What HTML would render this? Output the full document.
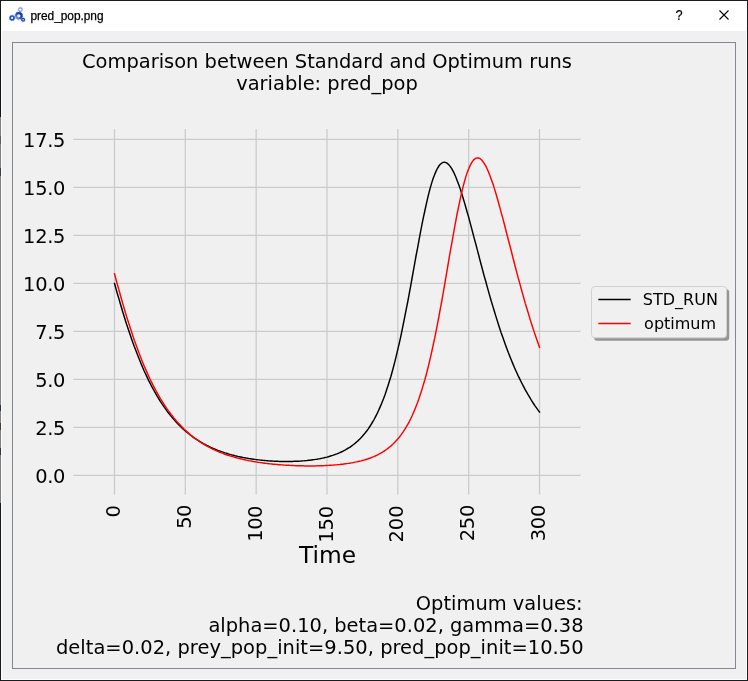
<!DOCTYPE html>
<html><head><meta charset="utf-8"><title>pred_pop.png</title>
<style>
html,body{margin:0;padding:0;background:#f0f0f0;}
#win{position:relative;width:748px;height:681px;overflow:hidden;background:#f0f0f0;font-family:"Liberation Sans",sans-serif;}
#bt{position:absolute;left:0;top:0;width:748px;height:1px;background:#1b1c20;}
#bb{position:absolute;left:0;top:680px;width:748px;height:1px;background:#1b1c20;}
#bl{position:absolute;left:0;top:0;width:1px;height:681px;background:linear-gradient(#15161a 0px,#15161a 117px,#808080 117px,#808080 136px,#5c5c5c 136px,#5c5c5c 144px,#808080 144px,#808080 168px,#3a3f48 168px,#3a3f48 176px,#828282 176px,#828282 405px,#2a2f45 405px,#2a2f45 411px,#808080 411px,#808080 423px,#4a3a30 423px,#4a3a30 430px,#808080 430px,#808080 448px,#33343a 448px,#33343a 455px,#7c7c7c 455px,#7c7c7c 503px,#17181c 503px,#17181c 681px);}
#br{position:absolute;left:747px;top:0;width:1px;height:681px;background:#1b1c20;}
#hl{position:absolute;left:1px;top:1px;width:746px;height:679px;box-sizing:border-box;border:1px solid #fdfdfd;border-top:none;}
#tb{position:absolute;left:1px;top:1px;width:746px;height:30px;background:#fff;}
#ttl{position:absolute;left:30.5px;top:9.2px;font-size:11.9px;line-height:15px;color:#000;white-space:nowrap;letter-spacing:-0.03px;-webkit-text-stroke:0.25px #000;}
#frame{position:absolute;left:12px;top:42px;width:724px;height:627px;box-sizing:border-box;border:1px solid #828790;}
svg{position:absolute;left:0;top:0;}
</style></head><body>
<div id="win">
<div id="tb"></div>
<div id="hl"></div>
<div id="bt"></div><div id="bb"></div><div id="bl"></div><div id="br"></div>
<div id="ttl">pred_pop.png</div>
<div id="frame"></div>
<svg width="748" height="681" viewBox="0 0 748 681" font-family="'DejaVu Sans','Liberation Sans',sans-serif" fill="#000">
<!-- window icon -->
<g id="icon" fill="none">
<defs><linearGradient id="gg" x1="0" y1="1" x2="1" y2="0"><stop offset="0" stop-color="#8aa4ea"/><stop offset="0.45" stop-color="#2a55c4"/><stop offset="1" stop-color="#0a2c9c"/></linearGradient></defs>
<circle cx="20.4" cy="9.6" r="1.75" stroke="#7f99da" stroke-width="1.15"/>
<circle cx="20.4" cy="9.6" r="2.5" stroke="#9fb3e6" stroke-width="0.6" stroke-dasharray="0.9 1.06"/>
<circle cx="12.1" cy="17.9" r="1.9" stroke="#1f52c8" stroke-width="1.7"/>
<circle cx="12.1" cy="17.9" r="2.85" stroke="#3f6ad2" stroke-width="0.6" stroke-dasharray="1 1.24"/>
<circle cx="23.1" cy="19.7" r="1.35" stroke="#1c3fa6" stroke-width="1.3"/>
<circle cx="23.1" cy="19.7" r="2.1" stroke="#4463b8" stroke-width="0.5" stroke-dasharray="0.8 0.85"/>
<circle cx="18.8" cy="15.8" r="2.7" stroke="url(#gg)" stroke-width="2.2"/>
<circle cx="18.8" cy="15.8" r="3.95" stroke="url(#gg)" stroke-width="0.8" stroke-dasharray="1.3 1.8"/>
</g>
<text x="679.1" y="20" font-family="'Liberation Sans',sans-serif" font-size="14.2px" text-anchor="middle" stroke="#000" stroke-width="0.2" transform="translate(679.1 0) scale(0.9 1) translate(-679.1 0)">?</text>
<!-- close button -->
<path d="M719.5 10.5 L728.5 19.5 M728.5 10.5 L719.5 19.5" stroke="#000" stroke-width="1.1" fill="none"/>
<!-- plot -->
<g stroke="#cbcbcb" stroke-width="1.3" fill="none">
<line x1="114.50" y1="129.0" x2="114.50" y2="494.6"/>
<line x1="185.33" y1="129.0" x2="185.33" y2="494.6"/>
<line x1="256.17" y1="129.0" x2="256.17" y2="494.6"/>
<line x1="327.00" y1="129.0" x2="327.00" y2="494.6"/>
<line x1="397.83" y1="129.0" x2="397.83" y2="494.6"/>
<line x1="468.67" y1="129.0" x2="468.67" y2="494.6"/>
<line x1="539.50" y1="129.0" x2="539.50" y2="494.6"/>
<line x1="73.2" y1="475.35" x2="580.85" y2="475.35"/>
<line x1="73.2" y1="427.35" x2="580.85" y2="427.35"/>
<line x1="73.2" y1="379.35" x2="580.85" y2="379.35"/>
<line x1="73.2" y1="331.35" x2="580.85" y2="331.35"/>
<line x1="73.2" y1="283.35" x2="580.85" y2="283.35"/>
<line x1="73.2" y1="235.35" x2="580.85" y2="235.35"/>
<line x1="73.2" y1="187.35" x2="580.85" y2="187.35"/>
<line x1="73.2" y1="139.35" x2="580.85" y2="139.35"/>
</g>
<g font-size="19.44px">
<text x="327" y="67.6" text-anchor="middle">Comparison between Standard and Optimum runs</text>
<text x="327" y="90.0" text-anchor="middle">variable: pred_pop</text>
<text x="65.0" y="483.20" text-anchor="end" letter-spacing="-0.35">0.0</text>
<text x="65.0" y="435.20" text-anchor="end" letter-spacing="-0.35">2.5</text>
<text x="65.0" y="387.20" text-anchor="end" letter-spacing="-0.35">5.0</text>
<text x="65.0" y="339.20" text-anchor="end" letter-spacing="-0.35">7.5</text>
<text x="65.0" y="291.20" text-anchor="end" letter-spacing="-0.35">10.0</text>
<text x="65.0" y="243.20" text-anchor="end" letter-spacing="-0.35">12.5</text>
<text x="65.0" y="195.20" text-anchor="end" letter-spacing="-0.35">15.0</text>
<text x="65.0" y="147.20" text-anchor="end" letter-spacing="-0.35">17.5</text>
<text transform="translate(120.00 505.10) rotate(-90)" text-anchor="end" letter-spacing="0">0</text>
<text transform="translate(190.83 505.00) rotate(-90)" text-anchor="end" letter-spacing="-0.45">50</text>
<text transform="translate(261.67 506.00) rotate(-90)" text-anchor="end" letter-spacing="-0.45">100</text>
<text transform="translate(332.50 506.00) rotate(-90)" text-anchor="end" letter-spacing="-0.15">150</text>
<text transform="translate(403.33 505.40) rotate(-90)" text-anchor="end" letter-spacing="0.0">200</text>
<text transform="translate(474.17 504.95) rotate(-90)" text-anchor="end" letter-spacing="-0.25">250</text>
<text transform="translate(545.00 504.95) rotate(-90)" text-anchor="end" letter-spacing="-0.25">300</text>
<text x="582.6" y="610" text-anchor="end">Optimum values:</text>
<text x="583.6" y="632.1" text-anchor="end">alpha=0.10, beta=0.02, gamma=0.38</text>
<text x="583.6" y="654.2" text-anchor="end" letter-spacing="0.03">delta=0.02, prey_pop_init=9.50, pred_pop_init=10.50</text>
</g>
<text x="327.5" y="562.6" font-size="23.33px" text-anchor="middle">Time</text>
<path d="M114.5 283.4 L115.9 288.4 L117.3 293.5 L118.8 298.4 L120.2 303.2 L121.6 308.0 L123.0 312.7 L124.4 317.3 L125.8 321.7 L127.2 326.1 L128.7 330.4 L130.1 334.6 L131.5 338.7 L132.9 342.7 L134.3 346.6 L135.8 350.3 L137.2 354.0 L138.6 357.6 L140.0 361.1 L141.4 364.5 L142.8 367.8 L144.2 371.0 L145.7 374.1 L147.1 377.1 L148.5 380.1 L149.9 382.9 L151.3 385.6 L152.8 388.3 L154.2 390.9 L155.6 393.4 L157.0 395.8 L158.4 398.2 L159.8 400.5 L161.2 402.7 L162.7 404.8 L164.1 406.9 L165.5 408.9 L166.9 410.8 L168.3 412.7 L169.8 414.5 L171.2 416.3 L172.6 418.0 L174.0 419.6 L175.4 421.2 L176.8 422.7 L178.2 424.2 L179.7 425.7 L181.1 427.0 L182.5 428.4 L183.9 429.7 L185.3 430.9 L186.8 432.1 L188.2 433.3 L189.6 434.4 L191.0 435.5 L192.4 436.6 L193.8 437.6 L195.2 438.6 L196.7 439.5 L198.1 440.4 L199.5 441.3 L200.9 442.2 L202.3 443.0 L203.8 443.8 L205.2 444.5 L206.6 445.3 L208.0 446.0 L209.4 446.7 L210.8 447.4 L212.2 448.0 L213.7 448.6 L215.1 449.2 L216.5 449.8 L217.9 450.4 L219.3 450.9 L220.8 451.4 L222.2 451.9 L223.6 452.4 L225.0 452.9 L226.4 453.3 L227.8 453.8 L229.2 454.2 L230.7 454.6 L232.1 455.0 L233.5 455.3 L234.9 455.7 L236.3 456.0 L237.8 456.4 L239.2 456.7 L240.6 457.0 L242.0 457.3 L243.4 457.6 L244.8 457.8 L246.2 458.1 L247.7 458.3 L249.1 458.6 L250.5 458.8 L251.9 459.0 L253.3 459.2 L254.8 459.4 L256.2 459.6 L257.6 459.8 L259.0 459.9 L260.4 460.1 L261.8 460.2 L263.2 460.4 L264.7 460.5 L266.1 460.6 L267.5 460.7 L268.9 460.9 L270.3 461.0 L271.8 461.0 L273.2 461.1 L274.6 461.2 L276.0 461.3 L277.4 461.3 L278.8 461.4 L280.2 461.4 L281.7 461.4 L283.1 461.5 L284.5 461.5 L285.9 461.5 L287.3 461.5 L288.8 461.5 L290.2 461.5 L291.6 461.4 L293.0 461.4 L294.4 461.3 L295.8 461.3 L297.2 461.2 L298.7 461.2 L300.1 461.1 L301.5 461.0 L302.9 460.9 L304.3 460.8 L305.8 460.6 L307.2 460.5 L308.6 460.3 L310.0 460.2 L311.4 460.0 L312.8 459.8 L314.2 459.6 L315.7 459.4 L317.1 459.2 L318.5 458.9 L319.9 458.7 L321.3 458.4 L322.8 458.1 L324.2 457.8 L325.6 457.4 L327.0 457.1 L328.4 456.7 L329.8 456.3 L331.2 455.8 L332.7 455.4 L334.1 454.9 L335.5 454.4 L336.9 453.9 L338.3 453.3 L339.8 452.7 L341.2 452.0 L342.6 451.3 L344.0 450.6 L345.4 449.9 L346.8 449.0 L348.2 448.2 L349.7 447.3 L351.1 446.3 L352.5 445.3 L353.9 444.2 L355.3 443.1 L356.8 441.8 L358.2 440.6 L359.6 439.2 L361.0 437.7 L362.4 436.2 L363.8 434.6 L365.3 432.8 L366.7 431.0 L368.1 429.1 L369.5 427.0 L370.9 424.8 L372.3 422.5 L373.8 420.0 L375.2 417.4 L376.6 414.7 L378.0 411.7 L379.4 408.6 L380.8 405.4 L382.2 401.9 L383.7 398.2 L385.1 394.4 L386.5 390.3 L387.9 386.0 L389.3 381.5 L390.8 376.7 L392.2 371.8 L393.6 366.5 L395.0 361.1 L396.4 355.4 L397.8 349.4 L399.3 343.2 L400.7 336.8 L402.1 330.1 L403.5 323.2 L404.9 316.2 L406.3 308.9 L407.8 301.5 L409.2 293.9 L410.6 286.3 L412.0 278.5 L413.4 270.7 L414.8 262.8 L416.2 255.0 L417.7 247.3 L419.1 239.7 L420.5 232.2 L421.9 224.9 L423.3 217.8 L424.8 211.0 L426.2 204.6 L427.6 198.4 L429.0 192.7 L430.4 187.4 L431.8 182.6 L433.2 178.3 L434.7 174.4 L436.1 171.1 L437.5 168.3 L438.9 166.0 L440.3 164.3 L441.8 163.1 L443.2 162.4 L444.6 162.2 L446.0 162.6 L447.4 163.4 L448.8 164.7 L450.2 166.4 L451.7 168.6 L453.1 171.1 L454.5 174.0 L455.9 177.3 L457.3 180.9 L458.8 184.7 L460.2 188.8 L461.6 193.2 L463.0 197.7 L464.4 202.4 L465.8 207.3 L467.2 212.3 L468.7 217.4 L470.1 222.6 L471.5 227.9 L472.9 233.3 L474.3 238.6 L475.8 244.0 L477.2 249.4 L478.6 254.8 L480.0 260.2 L481.4 265.5 L482.8 270.8 L484.2 276.1 L485.7 281.2 L487.1 286.4 L488.5 291.4 L489.9 296.4 L491.3 301.3 L492.8 306.1 L494.2 310.8 L495.6 315.4 L497.0 319.9 L498.4 324.3 L499.8 328.7 L501.2 332.9 L502.7 337.0 L504.1 341.1 L505.5 345.0 L506.9 348.8 L508.3 352.5 L509.8 356.2 L511.2 359.7 L512.6 363.1 L514.0 366.5 L515.4 369.7 L516.8 372.8 L518.2 375.9 L519.7 378.9 L521.1 381.7 L522.5 384.5 L523.9 387.2 L525.3 389.9 L526.8 392.4 L528.2 394.9 L529.6 397.2 L531.0 399.6 L532.4 401.8 L533.8 404.0 L535.2 406.1 L536.7 408.1 L538.1 410.1 L539.5 412.0" stroke="#000" stroke-width="1.45" fill="none" stroke-linejoin="round" stroke-linecap="square"/>
<path d="M114.5 273.8 L115.9 279.1 L117.3 284.3 L118.8 289.4 L120.2 294.5 L121.6 299.5 L123.0 304.4 L124.4 309.2 L125.8 313.9 L127.2 318.6 L128.7 323.1 L130.1 327.5 L131.5 331.8 L132.9 336.0 L134.3 340.2 L135.8 344.2 L137.2 348.1 L138.6 351.9 L140.0 355.6 L141.4 359.2 L142.8 362.7 L144.2 366.1 L145.7 369.4 L147.1 372.6 L148.5 375.7 L149.9 378.8 L151.3 381.7 L152.8 384.6 L154.2 387.3 L155.6 390.0 L157.0 392.6 L158.4 395.1 L159.8 397.6 L161.2 399.9 L162.7 402.2 L164.1 404.4 L165.5 406.6 L166.9 408.7 L168.3 410.7 L169.8 412.6 L171.2 414.5 L172.6 416.3 L174.0 418.1 L175.4 419.8 L176.8 421.5 L178.2 423.0 L179.7 424.6 L181.1 426.1 L182.5 427.5 L183.9 428.9 L185.3 430.3 L186.8 431.6 L188.2 432.8 L189.6 434.1 L191.0 435.2 L192.4 436.4 L193.8 437.5 L195.2 438.5 L196.7 439.6 L198.1 440.5 L199.5 441.5 L200.9 442.4 L202.3 443.3 L203.8 444.2 L205.2 445.0 L206.6 445.8 L208.0 446.6 L209.4 447.4 L210.8 448.1 L212.2 448.8 L213.7 449.5 L215.1 450.2 L216.5 450.8 L217.9 451.4 L219.3 452.0 L220.8 452.6 L222.2 453.1 L223.6 453.7 L225.0 454.2 L226.4 454.7 L227.8 455.2 L229.2 455.6 L230.7 456.1 L232.1 456.5 L233.5 456.9 L234.9 457.3 L236.3 457.7 L237.8 458.1 L239.2 458.5 L240.6 458.8 L242.0 459.1 L243.4 459.5 L244.8 459.8 L246.2 460.1 L247.7 460.4 L249.1 460.7 L250.5 460.9 L251.9 461.2 L253.3 461.5 L254.8 461.7 L256.2 461.9 L257.6 462.2 L259.0 462.4 L260.4 462.6 L261.8 462.8 L263.2 463.0 L264.7 463.2 L266.1 463.4 L267.5 463.5 L268.9 463.7 L270.3 463.9 L271.8 464.0 L273.2 464.2 L274.6 464.3 L276.0 464.4 L277.4 464.5 L278.8 464.7 L280.2 464.8 L281.7 464.9 L283.1 465.0 L284.5 465.1 L285.9 465.2 L287.3 465.3 L288.8 465.3 L290.2 465.4 L291.6 465.5 L293.0 465.5 L294.4 465.6 L295.8 465.7 L297.2 465.7 L298.7 465.7 L300.1 465.8 L301.5 465.8 L302.9 465.8 L304.3 465.9 L305.8 465.9 L307.2 465.9 L308.6 465.9 L310.0 465.9 L311.4 465.9 L312.8 465.9 L314.2 465.9 L315.7 465.9 L317.1 465.8 L318.5 465.8 L319.9 465.8 L321.3 465.7 L322.8 465.7 L324.2 465.6 L325.6 465.5 L327.0 465.5 L328.4 465.4 L329.8 465.3 L331.2 465.2 L332.7 465.1 L334.1 465.0 L335.5 464.9 L336.9 464.8 L338.3 464.6 L339.8 464.5 L341.2 464.3 L342.6 464.2 L344.0 464.0 L345.4 463.8 L346.8 463.6 L348.2 463.4 L349.7 463.2 L351.1 462.9 L352.5 462.7 L353.9 462.4 L355.3 462.1 L356.8 461.9 L358.2 461.5 L359.6 461.2 L361.0 460.9 L362.4 460.5 L363.8 460.1 L365.3 459.7 L366.7 459.2 L368.1 458.8 L369.5 458.3 L370.9 457.7 L372.3 457.2 L373.8 456.6 L375.2 456.0 L376.6 455.3 L378.0 454.6 L379.4 453.9 L380.8 453.1 L382.2 452.3 L383.7 451.4 L385.1 450.4 L386.5 449.5 L387.9 448.4 L389.3 447.3 L390.8 446.1 L392.2 444.8 L393.6 443.5 L395.0 442.0 L396.4 440.5 L397.8 438.9 L399.3 437.2 L400.7 435.4 L402.1 433.4 L403.5 431.4 L404.9 429.2 L406.3 426.9 L407.8 424.4 L409.2 421.8 L410.6 419.0 L412.0 416.0 L413.4 412.8 L414.8 409.5 L416.2 406.0 L417.7 402.2 L419.1 398.3 L420.5 394.1 L421.9 389.6 L423.3 384.9 L424.8 380.0 L426.2 374.8 L427.6 369.4 L429.0 363.7 L430.4 357.7 L431.8 351.5 L433.2 344.9 L434.7 338.2 L436.1 331.2 L437.5 323.9 L438.9 316.5 L440.3 308.8 L441.8 301.0 L443.2 293.0 L444.6 284.9 L446.0 276.7 L447.4 268.4 L448.8 260.2 L450.2 251.9 L451.7 243.8 L453.1 235.8 L454.5 227.9 L455.9 220.3 L457.3 213.0 L458.8 205.9 L460.2 199.2 L461.6 193.0 L463.0 187.1 L464.4 181.8 L465.8 176.9 L467.2 172.6 L468.7 168.8 L470.1 165.6 L471.5 162.9 L472.9 160.8 L474.3 159.3 L475.8 158.3 L477.2 157.9 L478.6 158.0 L480.0 158.6 L481.4 159.8 L482.8 161.4 L484.2 163.4 L485.7 165.9 L487.1 168.7 L488.5 172.0 L489.9 175.5 L491.3 179.4 L492.8 183.5 L494.2 187.9 L495.6 192.5 L497.0 197.3 L498.4 202.3 L499.8 207.4 L501.2 212.6 L502.7 217.9 L504.1 223.3 L505.5 228.8 L506.9 234.3 L508.3 239.8 L509.8 245.3 L511.2 250.8 L512.6 256.3 L514.0 261.8 L515.4 267.2 L516.8 272.6 L518.2 277.9 L519.7 283.1 L521.1 288.3 L522.5 293.4 L523.9 298.4 L525.3 303.4 L526.8 308.2 L528.2 312.9 L529.6 317.6 L531.0 322.1 L532.4 326.5 L533.8 330.9 L535.2 335.1 L536.7 339.3 L538.1 343.3 L539.5 347.2" stroke="#ff0000" stroke-width="1.45" fill="none" stroke-linejoin="round" stroke-linecap="square"/>
<!-- legend -->
<rect x="594.1" y="289.3" width="135.1" height="51.5" rx="3.2" fill="#959595"/>
<rect x="591.5" y="286.5" width="135" height="51.3" rx="3.2" fill="#f0f0f0" stroke="#d2d2d2" stroke-width="1"/>
<path d="M598.35 299.45 H630.65" stroke="#000" stroke-width="1.45"/>
<path d="M598.35 323.45 H630.65" stroke="#ff0000" stroke-width="1.45"/>
<g font-size="16px">
<text x="642.8" y="305">STD_RUN</text>
<text x="644.1" y="328.8">optimum</text>
</g>
</svg>
</div>
</body></html>
